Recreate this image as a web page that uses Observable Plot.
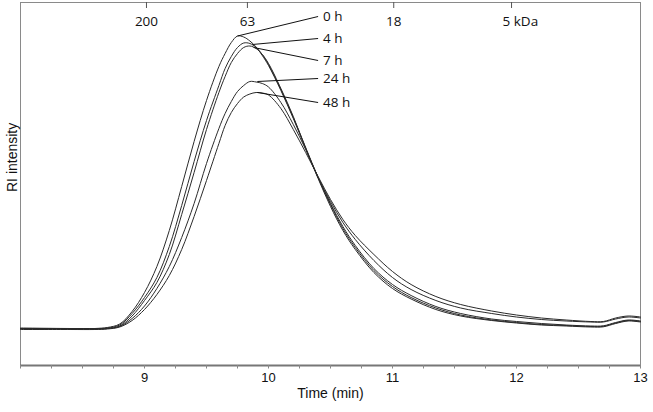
<!DOCTYPE html>
<html>
<head>
<meta charset="utf-8">
<script src="https://cdn.jsdelivr.net/npm/d3@7"></script>
<script src="https://cdn.jsdelivr.net/npm/@observablehq/plot@0.6"></script>
<style>
  html, body { margin: 0; padding: 0; background: #fff; }
  #chart svg { display: block; }
</style>
</head>
<body>
<div id="chart"></div>
<script>
// ---- data (RI intensity in arbitrary units, baseline ≈ 0) ----
const seriesNames = ["0 h", "4 h", "7 h", "24 h", "48 h"];

const times = [8.0, 8.4, 8.6, 8.7, 8.8, 8.9, 9.0, 9.1, 9.2, 9.3, 9.4, 9.5, 9.6, 9.65, 9.7, 9.75, 9.8, 9.85, 9.9, 9.95,
               10.0, 10.1, 10.2, 10.3, 10.4, 10.5, 10.6, 10.7, 10.85, 11.0, 11.15, 11.35, 11.55, 11.8, 12.0, 12.2, 12.4, 12.6, 12.7, 12.8, 12.9, 13.0];

const ri0h  = [0.5, 0, 0, 1, 4.5, 17, 36, 62, 98, 142, 187, 228, 262, 275, 286, 292.5, 291.5, 287.5, 281.5, 273,
               263, 238, 210, 180, 151, 125, 102, 83, 60, 44, 33, 22, 15, 9.5, 7, 5, 3.5, 2.5, 2.7, 6, 8.5, 7.5];
const ri4h  = [0, 0, 0, 0.5, 3.5, 15, 31, 51, 82, 123, 167, 208, 243, 260, 272, 281, 285.5, 285, 281, 274,
               264, 239, 211, 181, 151, 124, 100, 81, 58, 42, 31, 20.5, 13.5, 8.5, 6, 4, 3, 2, 2.2, 5.5, 8, 7];
const ri7h  = [0, -0.5, -0.5, 0, 2.5, 12.5, 28, 46, 74, 114, 156, 199, 236, 252, 266, 275, 281, 282.5, 280, 274,
               265, 240, 212, 180, 150, 122, 98, 79, 56, 40, 29.5, 19, 12.5, 8, 5.5, 3.5, 2.5, 1.5, 1.7, 5, 7.5, 6.5];
const ri24h = [-0.5, -0.5, -0.5, 0, 2, 10, 22.5, 40, 62, 91, 125, 165, 200, 215, 227, 237, 243, 247, 246.5, 245,
               241.5, 226, 204, 179, 151, 127, 106, 89, 68, 51, 39, 28, 20.5, 15, 11.5, 9, 7.5, 6.5, 6.5, 9.5, 11.5, 10.5];
const ri48h = [-1, -1, -1, -0.5, 1.5, 8, 19, 34, 53, 79, 112, 148, 185, 203, 216, 225, 231.5, 234.5, 236, 235.5,
               233.5, 220, 199, 176, 152, 129, 109, 93, 74, 57, 44, 32, 24, 17.5, 13.5, 10.5, 8.5, 7, 7, 10.5, 12.5, 11.5];

// label annotations (leader lines from each trace to its label)
const leaderStartTime = [9.75, 9.87, 9.88, 9.91, 9.91];
const leaderStartRI   = [292.5, 284, 281, 247, 236];
const labelTime = [10.40, 10.40, 10.40, 10.40, 10.40];
const labelRI   = [312, 290, 268, 250, 226];

// axes
const xDomain = [8, 13];
const yDomain = [-37, 326];
const xTickValues = d3.range(8, 13.001, 0.25);
const xTickLabels = [9, 10, 11, 12, 13];
const kdaTime   = [9.016, 9.83, 11.01];
const kdaLabels = ["200", "63", "18"];
const kdaLastTime = [11.96];
const kdaLastLabel = ["5 kDa"];

// ---- build tables ----
const seriesRI = [ri0h, ri4h, ri7h, ri24h, ri48h];
const rows = seriesNames.flatMap((name, i) =>
  times.map((t, j) => ({series: name, time: t, ri: seriesRI[i][j]})));
const labels = seriesNames.map((name, i) => ({
  name, t1: leaderStartTime[i], r1: leaderStartRI[i], t2: labelTime[i], r2: labelRI[i]
}));

const plot = Plot.plot({
  width: 653,
  height: 412,
  marginLeft: 20,
  marginRight: 13,
  marginTop: 2,
  marginBottom: 47,
  style: {background: "#fff", fontFamily: "'Liberation Sans', Arial, sans-serif"},
  x: {domain: xDomain},
  y: {domain: yDomain},
  marks: [
    Plot.frame({stroke: "#8a8a8a", strokeWidth: 1}),
    Plot.ruleY([yDomain[0]], {stroke: "#777", strokeWidth: 2}),
    Plot.axisX({
      ticks: xTickValues,
      tickSize: 3.5,
      tickPadding: 4,
      stroke: "#888",
      fill: "#111",
      fontSize: 13,
      tickFormat: d => xTickLabels.includes(+d.toFixed(2)) ? String(Math.round(d)) : "",
      label: null
    }),
    Plot.axisY({ticks: [], label: null}),
    Plot.text(["Time (min)"], {frameAnchor: "bottom", dy: 32, fontSize: 14, fill: "#111"}),
    Plot.text(["RI intensity"], {frameAnchor: "left", dx: -8, dy: 8, rotate: -90, fontSize: 14, fill: "#111"}),
    // top molecular-weight axis
    Plot.ruleX(kdaTime.concat(kdaLastTime), {stroke: "#555", insetBottom: 357}),
    Plot.text(kdaTime, {x: d => d, text: (d, i) => kdaLabels[i], frameAnchor: "top", dy: 14,
      fontFamily: "'Open Sans', sans-serif", fontSize: 13.5, fill: "#111"}),
    Plot.text(kdaLastTime, {x: d => d, text: (d, i) => kdaLastLabel[i], frameAnchor: "top", dy: 14,
      textAnchor: "start", dx: -9, fontFamily: "'Open Sans', sans-serif", fontSize: 13.5, fill: "#111"}),
    // traces
    Plot.line(rows, {x: "time", y: "ri", z: "series", stroke: "#2a2a2a", strokeWidth: 1, curve: "catmull-rom"}),
    // leader lines + labels
    Plot.link(labels, {x1: "t1", y1: "r1", x2: "t2", y2: "r2", stroke: "#111", strokeWidth: 1}),
    Plot.text(labels, {x: "t2", y: "r2", text: "name", textAnchor: "start", dx: 5,
      fontFamily: "'Open Sans', sans-serif", fontSize: 13.5, fill: "#111"})
  ]
});
document.getElementById("chart").appendChild(plot);
</script>
</body>
</html>
